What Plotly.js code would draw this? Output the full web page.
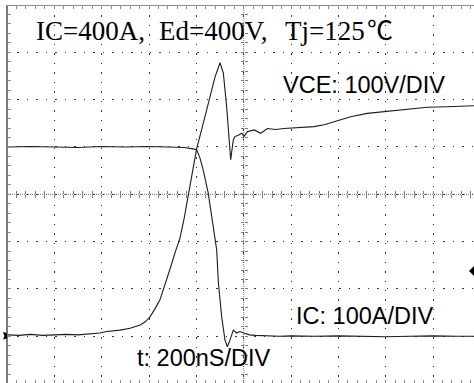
<!DOCTYPE html>
<html>
<head>
<meta charset="utf-8">
<script src="https://cdn.plot.ly/plotly-3.0.1.min.js"></script>
<style>
html,body{margin:0;padding:0;background:#fff;overflow:hidden;}
#chart{width:474px;height:383px;}
</style>
</head>
<body>
<div id="chart"></div>
<script>
// ---- Data (time in ns, VCE in V, IC in A) ----
const timeVce = [-1000,-950,-900,-850,-800,-750,-700,-650,-607,-579,-523,-480,-438,-417,-396,-375,-354,-340,-324,-307,-288,-269,-252,-234,-218,-199,-171,-142,-121,-100,-86,-72,-61,-55,-44,-37,-23,-8,1,15,44,72,100,135,170,213,255,297,340,382,452,522,607,691,776,860,973];
const vce = [3,2,4,2,3,4,3,5,7,10,13,17,24,30,41,58,77,98,121,149,180,208,248,301,347,396,450,510,548,578,556,485,415,373,415,422,425,429,422,432,436,429,439,437,439,440,442,443,447,453,464,471,475,480,484,485,487];

const timeIc = [-1000,-900,-800,-700,-600,-500,-400,-300,-250,-214,-199,-185,-171,-150,-134,-114,-107,-93,-79,-69,-58,-44,-30,-16,0,25,50,100,150,200,300,400,500,600,700,800,900,973];
const ic = [400,401,400,399,401,400,401,400,399,396,394,377,351,303,250,182,113,41,-8,-22,-8,13,7,10,7,3,2,1,0,1,0,1,0,-1,0,1,0,0];

const titleParts = ["IC=400A,", "Ed=400V,", "Tj=125", "℃"];
const vceLabel = "VCE: 100V/DIV";
const icLabel = "IC: 100A/DIV";
const timeLabel = "t: 200nS/DIV";

// ---- Screen geometry of the scope graticule ----
const W = 474, H = 383, ML = 8, MT = 6;
const PX0 = 243.7, PY0 = 336.3, DIV = 47.33;
const NS_PER_PX = 200 / DIV, U_PER_PX = 100 / DIV;
const xRange = [(ML - PX0) * NS_PER_PX, (W - PX0) * NS_PER_PX];
const yRange = [(PY0 - H) * U_PER_PX, (PY0 - MT) * U_PER_PX];
const pw = W - ML, ph = H - MT;
const paperX = px => (px - ML) / pw;
const paperY = py => (H - py) / ph;
const centerV = 300; // center horizontal graticule line (3 div above zero)

const gridCol = '#333333', borderCol = '#8c8c8c', centerTickCol = '#7a7a7a';
const dotDash = (DIV / 5 - 1.5).toFixed(3);

const tickBase = {
  showticklabels: false, showgrid: false, zeroline: false, showline: false,
  ticklen: 3, tickwidth: 1, fixedrange: true
};
function xTicks(extra, col) {
  return Object.assign({}, tickBase, {range: xRange, dtick: 200, tick0: 0, tickcolor: col,
    minor: {dtick: 40, ticklen: 3, tickcolor: col, ticks: extra.ticks}}, extra);
}
function yTicks(extra, col) {
  return Object.assign({}, tickBase, {range: yRange, dtick: 100, tick0: 0, tickcolor: col,
    minor: {dtick: 20, ticklen: 3, tickcolor: col, ticks: extra.ticks}}, extra);
}

const traceStyle = {type: 'scatter', mode: 'lines', hoverinfo: 'skip', line: {color: '#1c1c1c', width: 1.1}};
const data = [
  Object.assign({x: timeVce, y: vce, name: 'VCE'}, traceStyle),
  Object.assign({x: timeIc, y: ic, name: 'IC'}, traceStyle),
  {x: [], y: [], xaxis: 'x2', yaxis: 'y', type: 'scatter', hoverinfo: 'skip'},
  {x: [], y: [], xaxis: 'x3', yaxis: 'y', type: 'scatter', hoverinfo: 'skip'},
  {x: [], y: [], xaxis: 'x4', yaxis: 'y', type: 'scatter', hoverinfo: 'skip'},
  {x: [], y: [], xaxis: 'x', yaxis: 'y2', type: 'scatter', hoverinfo: 'skip'},
  {x: [], y: [], xaxis: 'x', yaxis: 'y3', type: 'scatter', hoverinfo: 'skip'}
];

const yCenterPaper = (centerV - yRange[0]) / (yRange[1] - yRange[0]);
const xCenterPaper = (0 - xRange[0]) / (xRange[1] - xRange[0]);

function ann(text, px, py, family, size, anchor) {
  return {text: text, xref: 'paper', yref: 'paper', x: paperX(px), y: paperY(py),
    xanchor: anchor || 'left', yanchor: 'middle', showarrow: false,
    font: {family: family, size: size, color: '#000'}, borderpad: 0};
}
function pathFromPx(pts) {
  return 'M' + pts.map(p => paperX(p[0]).toFixed(5) + ',' + paperY(p[1]).toFixed(5)).join('L') + 'Z';
}

const serif = 'Liberation Serif', sans = 'Liberation Sans';
const layout = {
  width: W, height: H, margin: {l: ML, r: 0, t: MT, b: 0, pad: 0},
  paper_bgcolor: '#fff', plot_bgcolor: '#fff', showlegend: false,
  xaxis: Object.assign(xTicks({ticks: 'inside'}, borderCol), {side: 'top', showline: true, linecolor: borderCol, linewidth: 1,
    showgrid: true, gridcolor: gridCol, gridwidth: 1, griddash: '1.5px,' + dotDash + 'px'}),
  xaxis2: xTicks({ticks: 'inside', overlaying: 'x', anchor: 'free', position: yCenterPaper}, centerTickCol),
  xaxis3: xTicks({ticks: 'outside', overlaying: 'x', anchor: 'free', position: yCenterPaper}, centerTickCol),
  xaxis4: xTicks({ticks: 'inside', overlaying: 'x', anchor: 'free', position: 0}, borderCol),
  yaxis: Object.assign(yTicks({ticks: 'inside'}, borderCol), {side: 'left', showline: true, linecolor: '#7a7a7a', linewidth: 2,
    showgrid: true, gridcolor: gridCol, gridwidth: 1, griddash: '1.5px,' + dotDash + 'px'}),
  yaxis2: yTicks({ticks: 'inside', overlaying: 'y', anchor: 'free', position: xCenterPaper}, centerTickCol),
  yaxis3: yTicks({ticks: 'outside', overlaying: 'y', anchor: 'free', position: xCenterPaper}, centerTickCol),
  shapes: [
    {type: 'line', xref: 'x', yref: 'paper', x0: 0, x1: 0, y0: 0, y1: 1, layer: 'below',
     line: {color: '#777', width: 1, dash: '1px,1px'}},
    {type: 'line', xref: 'paper', yref: 'y', x0: 0, x1: 1, y0: centerV, y1: centerV, layer: 'below',
     line: {color: '#777', width: 1, dash: '1px,1px'}},
    {type: 'path', xref: 'paper', yref: 'paper', path: pathFromPx([[3,332],[7,333],[7,338.5],[3,339.5],[4.5,336]]),
     fillcolor: '#000', line: {width: 0}},
    {type: 'path', xref: 'paper', yref: 'paper', path: pathFromPx([[469,271],[474,266],[474,276]]),
     fillcolor: '#000', line: {width: 0}}
  ],
  annotations: [
    ann(titleParts[0], 35, 31, serif, 27),
    ann(titleParts[1], 158, 31, serif, 27),
    ann(titleParts[2], 284, 31, serif, 27),
    ann(titleParts[3], 366, 29, 'Noto Sans CJK JP', 26),
    ann(vceLabel, 282, 85, sans, 23.5),
    ann(icLabel, 295, 316, sans, 23.5),
    ann(timeLabel, 136, 358, sans, 23.5)
  ]
};

Plotly.newPlot('chart', data, layout, {staticPlot: true, displayModeBar: false});
</script>
</body>
</html>
